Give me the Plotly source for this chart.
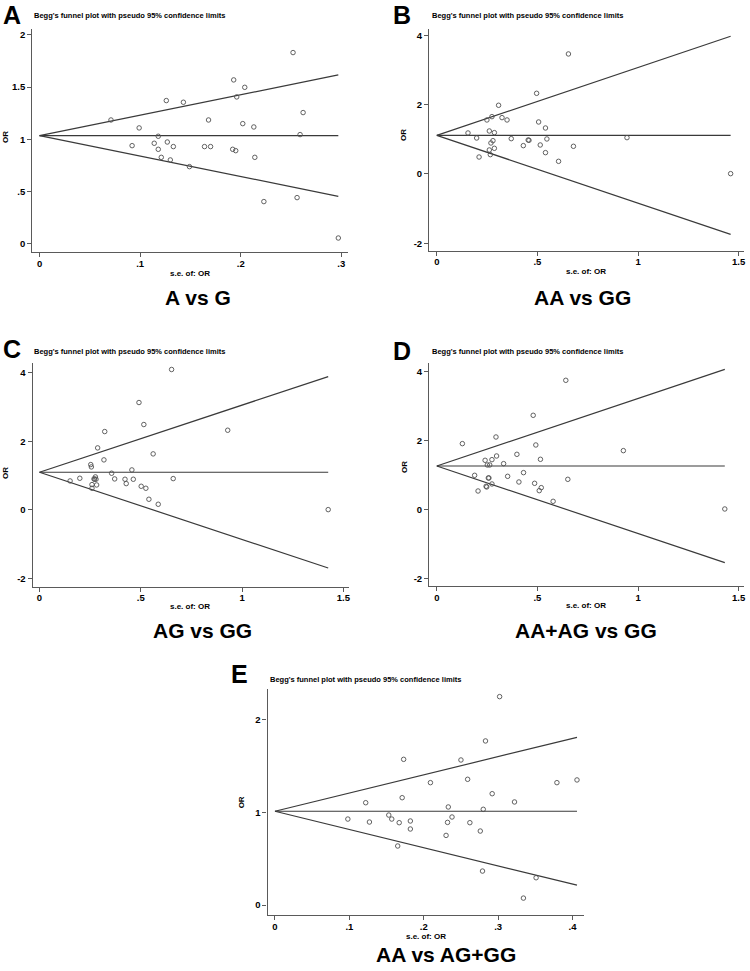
import plotly.graph_objects as go

W, H = 750, 971

# ---------------- data ----------------
A_se = [0.071, 0.099, 0.092, 0.114, 0.118, 0.118, 0.121, 0.126, 0.127, 0.130, 0.133, 0.143, 0.149, 0.164, 0.168,
        0.170, 0.192, 0.193, 0.195, 0.196, 0.204, 0.202, 0.213, 0.214, 0.223, 0.252, 0.256, 0.259, 0.262, 0.297]
A_or = [1.185, 1.109, 0.939, 0.962, 1.029, 0.904, 0.827, 1.371, 0.974, 0.802, 0.930, 1.355, 0.738, 0.930, 1.185,
        0.930, 0.904, 1.569, 0.891, 1.406, 1.498, 1.150, 1.118, 0.827, 0.403, 1.831, 0.441, 1.045, 1.256, 0.054]
A_theta = 1.035

B_se = [0.155, 0.198, 0.210, 0.249, 0.261, 0.261, 0.266, 0.269, 0.274, 0.279, 0.286, 0.286, 0.307, 0.324, 0.349,
        0.370, 0.430, 0.454, 0.458, 0.496, 0.506, 0.514, 0.540, 0.540, 0.547, 0.605, 0.654, 0.679, 0.945, 1.460]
B_or = [1.185, 1.040, 0.491, 1.561, 1.243, 0.694, 0.559, 0.896, 1.657, 0.963, 1.195, 0.742, 1.985, 1.628, 1.561,
        1.021, 0.819, 0.983, 0.973, 2.331, 1.503, 0.838, 1.329, 0.617, 1.012, 0.366, 3.468, 0.800, 1.050, 0.010]
B_theta = 1.117

C_se = [0.151, 0.199, 0.253, 0.256, 0.259, 0.259, 0.269, 0.272, 0.276, 0.279, 0.282, 0.287, 0.318, 0.322, 0.356,
        0.371, 0.422, 0.428, 0.456, 0.463, 0.491, 0.502, 0.515, 0.525, 0.540, 0.561, 0.586, 0.652, 0.660, 0.929, 1.425]
C_or = [0.847, 0.925, 1.324, 1.256, 0.740, 0.633, 0.906, 0.896, 0.964, 0.896, 0.730, 1.811, 1.461, 2.288, 1.071,
        0.906, 0.896, 0.769, 1.168, 0.896, 3.135, 0.691, 2.493, 0.633, 0.312, 1.636, 0.166, 4.099, 0.915, 2.327, 0.010]
C_theta = 1.10

D_se = [0.127, 0.188, 0.205, 0.240, 0.245, 0.248, 0.251, 0.256, 0.259, 0.263, 0.274, 0.274, 0.294, 0.297, 0.332,
        0.352, 0.398, 0.408, 0.431, 0.479, 0.486, 0.492, 0.509, 0.515, 0.519, 0.578, 0.641, 0.651, 0.927, 1.431]
D_or = [1.907, 0.987, 0.532, 1.423, 0.668, 0.649, 1.288, 0.910, 0.910, 1.288, 1.442, 0.736, 2.100, 1.549, 1.326,
        0.958, 1.597, 0.794, 1.065, 2.730, 0.755, 1.868, 0.542, 1.452, 0.629, 0.232, 3.746, 0.871, 1.704, 0.010]
D_theta = 1.258

E_se = [0.098, 0.122, 0.127, 0.153, 0.157, 0.165, 0.167, 0.171, 0.173, 0.182, 0.182, 0.209, 0.230, 0.232, 0.233,
        0.238, 0.250, 0.259, 0.262, 0.276, 0.280, 0.279, 0.283, 0.292, 0.302, 0.322, 0.334, 0.351, 0.379, 0.406]
E_or = [0.926, 1.102, 0.894, 0.969, 0.926, 0.636, 0.887, 1.156, 1.569, 0.905, 0.819, 1.318, 0.750, 0.890, 1.056,
        0.948, 1.562, 1.354, 0.887, 0.797, 1.031, 0.366, 1.767, 1.199, 2.244, 1.110, 0.075, 0.294, 1.318, 1.347]
E_theta = 1.01

A_xticks, A_xtext = [0, 0.1, 0.2, 0.3], ["0", ".1", ".2", ".3"]
A_yticks, A_ytext = [0, 0.5, 1, 1.5, 2], ["0", ".5", "1", "1.5", "2"]
BCD_xticks, BCD_xtext = [0, 0.5, 1, 1.5], ["0", ".5", "1", "1.5"]
BCD_yticks, BCD_ytext = [-2, 0, 2, 4], ["-2", "0", "2", "4"]
E_xticks, E_xtext = [0, 0.1, 0.2, 0.3, 0.4], ["0", ".1", ".2", ".3", ".4"]
E_yticks, E_ytext = [0, 1, 2], ["0", "1", "2"]

letters = ["A", "B", "C", "D", "E"]
subtitles = ["A vs G", "AA vs GG", "AG vs GG", "AA+AG vs GG", "AA vs AG+GG"]
plot_title = "Begg's funnel plot with pseudo 95% confidence limits"
x_title = "s.e. of: OR"
y_title = "OR"

panels = [
    dict(se=A_se, orv=A_or, theta=A_theta, xt=(A_xticks, A_xtext), yt=(A_yticks, A_ytext),
         xr=[-0.0073, 0.307], yr=[-0.083, 2.054], px=(32.3, 349.3), py=(29.3, 252.3),
         letter=(12.5, 0), title=(32, 16), ylab=(5, 137), xlab=(190.7, 273), sub=(199, 297)),
    dict(se=B_se, orv=B_or, theta=B_theta, xt=(BCD_xticks, BCD_xtext), yt=(BCD_yticks, BCD_ytext),
         xr=[-0.038, 1.525], yr=[-2.216, 4.18], px=(430.3, 745.7), py=(29.3, 250.7),
         letter=(403.5, 0), title=(431, 16), ylab=(405, 135), xlab=(588, 272), sub=(584, 297)),
    dict(se=C_se, orv=C_or, theta=C_theta, xt=(BCD_xticks, BCD_xtext), yt=(BCD_yticks, BCD_ytext),
         xr=[-0.034, 1.528], yr=[-2.24, 4.28], px=(32.7, 350.0), py=(363.3, 586.7),
         letter=(12.5, 333.5), title=(32, 351), ylab=(5, 473), xlab=(191, 606), sub=(203, 630)),
    dict(se=D_se, orv=D_or, theta=D_theta, xt=(BCD_xticks, BCD_xtext), yt=(BCD_yticks, BCD_ytext),
         xr=[-0.038, 1.525], yr=[-2.227, 4.24], px=(430.3, 745.7), py=(363.3, 586.0),
         letter=(403.5, 335.5), title=(431, 351), ylab=(405, 467), xlab=(588, 605), sub=(588, 630)),
    dict(se=E_se, orv=E_or, theta=E_theta, xt=(E_xticks, E_xtext), yt=(E_yticks, E_ytext),
         xr=[-0.0099, 0.416], yr=[-0.107, 2.323], px=(268.3, 586.0), py=(689.3, 915.0),
         letter=(240.5, 658.5), title=(269, 679), ylab=(242, 802), xlab=(427, 936), sub=(447, 954)),
]

LINE_COL = "#3a3a3a"
AX_COL = "#5a5a5a"
MK_COL = "#505050"
FONT = "Liberation Sans, Arial, sans-serif"

fig = go.Figure()
layout = dict(width=W, height=H, margin=dict(l=0, r=0, t=0, b=0),
              paper_bgcolor="white", plot_bgcolor="white", showlegend=False)
annotations = []


def fx(p):
    return p / W


def fy(p):
    return 1 - p / H


for i, p in enumerate(panels):
    k = "" if i == 0 else str(i + 1)
    xa, ya = "x" + k, "y" + k
    se_max = max(p["se"])
    th = p["theta"]
    # funnel lines: pooled estimate and pseudo 95% limits (theta +/- 1.96*se)
    for sgn in (0, 1, -1):
        fig.add_trace(go.Scatter(x=[0, se_max], y=[th, th + sgn * 1.96 * se_max], mode="lines",
                                 line=dict(color=LINE_COL, width=1.2), xaxis=xa, yaxis=ya,
                                 hoverinfo="skip"))
    fig.add_trace(go.Scatter(x=p["se"], y=p["orv"], mode="markers", xaxis=xa, yaxis=ya,
                             marker=dict(symbol="circle-open", size=4.5, color=MK_COL,
                                         line=dict(width=0.9, color=MK_COL))))
    common = dict(showgrid=False, zeroline=False, showline=True, linecolor=AX_COL, linewidth=1.2,
                  ticks="outside", ticklen=4, tickwidth=1, tickcolor=AX_COL,
                  ticklabeloverflow="allow",
                  tickfont=dict(family=FONT, size=9.5, color="black", weight="bold"))
    layout["xaxis" + k] = dict(common, domain=[fx(p["px"][0]), fx(p["px"][1])], range=p["xr"],
                               anchor=ya, tickmode="array", tickvals=p["xt"][0], ticktext=p["xt"][1],
                               ticklabelstandoff=-2)
    layout["yaxis" + k] = dict(common, domain=[fy(p["py"][1]), fy(p["py"][0])], range=p["yr"],
                               anchor=xa, tickmode="array", tickvals=p["yt"][0], ticktext=p["yt"][1])
    # texts
    annotations.append(dict(text=letters[i], x=fx(p["letter"][0]), y=fy(p["letter"][1]), xref="paper", yref="paper",
                            xanchor="center", yanchor="top", showarrow=False, borderpad=0,
                            font=dict(family=FONT, size=25, color="black", weight="bold")))
    annotations.append(dict(text=plot_title, x=fx(p["title"][0]), y=fy(p["title"][1]), xref="paper", yref="paper",
                            xanchor="left", yanchor="middle", showarrow=False,
                            font=dict(family=FONT, size=7.5, color="black", weight="bold")))
    annotations.append(dict(text=y_title, x=fx(p["ylab"][0]), y=fy(p["ylab"][1]), xref="paper", yref="paper",
                            xanchor="center", yanchor="middle", showarrow=False, textangle=-90,
                            font=dict(family=FONT, size=8, color="black", weight="bold")))
    annotations.append(dict(text=x_title, x=fx(p["xlab"][0]), y=fy(p["xlab"][1]), xref="paper", yref="paper",
                            xanchor="center", yanchor="middle", showarrow=False,
                            font=dict(family=FONT, size=8, color="black", weight="bold")))
    annotations.append(dict(text=subtitles[i], x=fx(p["sub"][0]), y=fy(p["sub"][1]), xref="paper", yref="paper",
                            xanchor="center", yanchor="middle", showarrow=False,
                            font=dict(family=FONT, size=21, color="black", weight="bold")))

layout["annotations"] = annotations
fig.update_layout(**layout)
fig.write_html("out.html", config={"displayModeBar": False},
               post_script="document.body.style.margin='0';document.body.style.overflow='hidden';")
